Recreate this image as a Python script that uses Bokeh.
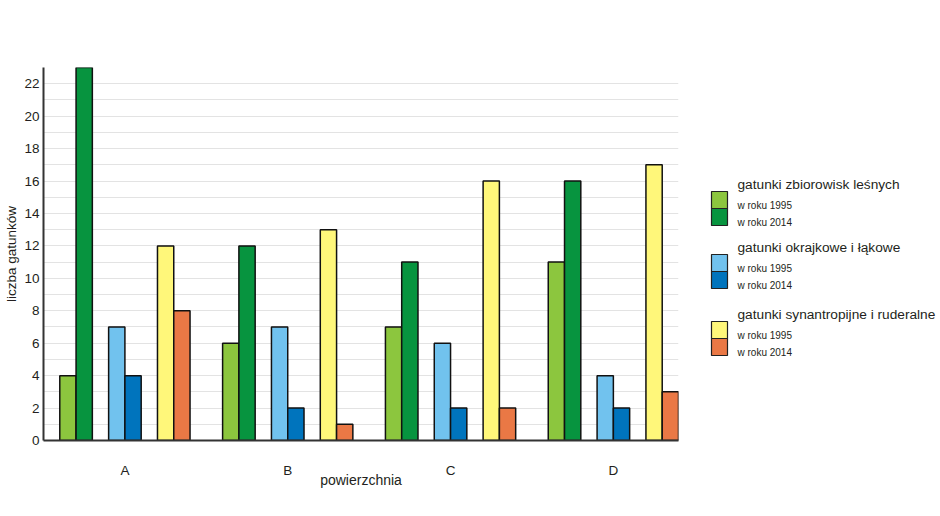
from bokeh.plotting import figure
from bokeh.layouts import row
from bokeh.models import Range1d, FixedTicker, SingleIntervalTicker, ColumnDataSource
from bokeh.core.properties import value
from bokeh.embed import file_html
from bokeh.resources import INLINE

# ---- data ----
categories = ["A", "B", "C", "D"]
zbior_1995 = [4, 6, 7, 11]
zbior_2014 = [23, 12, 11, 16]
okraj_1995 = [7, 7, 6, 4]
okraj_2014 = [4, 2, 2, 2]
synan_1995 = [12, 13, 16, 17]
synan_2014 = [8, 1, 2, 3]

group_titles = ["gatunki zbiorowisk leśnych", "gatunki okrajkowe i łąkowe",
                "gatunki synantropijne i ruderalne"]
year_labels = ["w roku 1995", "w roku 2014"]
y_label = "liczba gatunków"
x_label = "powierzchnia"

series = [zbior_1995, zbior_2014, okraj_1995, okraj_2014, synan_1995, synan_2014]
colors = ["#8cc63e", "#07943f", "#71c2ee", "#0074bd", "#fff77a", "#ea7845"]

FONT = "Liberation Sans"
TXT = "#231f20"
TOP, BOTTOM = 67, 60

p = figure(width=690, height=500, output_backend="svg", toolbar_location=None,
           x_range=Range1d(0, 39), y_range=Range1d(0, 23),
           min_border_left=43, min_border_right=12, min_border_top=TOP,
           min_border_bottom=BOTTOM)
p.outline_line_color = None
p.background_fill_color = "white"

for s, vals in enumerate(series):
    xs = [10 * g + 1.5 + s + (s // 2) for g in range(len(categories))]
    src = ColumnDataSource(dict(x=xs, top=vals))
    p.vbar(x="x", top="top", bottom=0, width=1, source=src,
           fill_color=colors[s], line_color="#111111", line_width=1.5)

# axes
p.yaxis.ticker = SingleIntervalTicker(interval=2)
p.ygrid.ticker = SingleIntervalTicker(interval=1)
p.ygrid.grid_line_color = "#e3e3e3"
p.ygrid.grid_line_width = 1
p.xgrid.grid_line_color = None

p.yaxis.axis_label = y_label
p.yaxis.axis_label_text_font = FONT
p.yaxis.axis_label_text_font_style = "normal"
p.yaxis.axis_label_text_font_size = "13.5px"
p.yaxis.axis_label_text_color = TXT
p.yaxis.axis_label_standoff = 2
p.yaxis.major_label_text_font = FONT
p.yaxis.major_label_text_font_size = "13.5px"
p.yaxis.major_label_text_color = TXT
p.yaxis.major_label_standoff = 4
p.yaxis.major_tick_in = 0
p.yaxis.major_tick_out = 0
p.yaxis.minor_tick_in = 0
p.yaxis.minor_tick_out = 0
p.yaxis.axis_line_color = "#333333"
p.yaxis.axis_line_width = 2

centers = [10 * g + 5 for g in range(len(categories))]
p.xaxis.ticker = FixedTicker(ticks=centers)
p.xaxis.major_label_overrides = {c: lab for c, lab in zip(centers, categories)}
p.xaxis.major_label_text_font = FONT
p.xaxis.major_label_text_font_size = "13.5px"
p.xaxis.major_label_text_color = TXT
p.xaxis.major_label_standoff = 22
p.xaxis.major_tick_in = 0
p.xaxis.major_tick_out = 0
p.xaxis.minor_tick_in = 0
p.xaxis.minor_tick_out = 0
p.xaxis.axis_line_color = "#333333"
p.xaxis.axis_line_width = 2
p.xaxis.axis_label = x_label
p.xaxis.axis_label_text_font = FONT
p.xaxis.axis_label_text_font_style = "normal"
p.xaxis.axis_label_text_font_size = "14px"
p.xaxis.axis_label_text_color = TXT
p.xaxis.axis_label_standoff = -9

# ---- legend figure (data coords = pixel coords of the page) ----
lg = figure(width=246, height=500, output_backend="svg", toolbar_location=None,
            x_range=Range1d(0, 246), y_range=Range1d(500 - BOTTOM, TOP),
            min_border_left=0, min_border_right=0, min_border_top=TOP,
            min_border_bottom=BOTTOM)
lg.axis.visible = False
lg.grid.visible = False
lg.outline_line_color = None

sw_tops = [191, 254, 321]
sw_h = 17
sw_left, sw_right, txt_x = 21, 37, 47
for i, title in enumerate(group_titles):
    t = sw_tops[i]
    lg.quad(left=[sw_left, sw_left], right=[sw_right, sw_right],
            top=[t, t + sw_h], bottom=[t + sw_h, t + 2 * sw_h],
            fill_color=[colors[2 * i], colors[2 * i + 1]], line_color="#222222", line_width=1.2)
    lg.text(x=[txt_x], y=[t - 7], text=[title], text_font=value(FONT), text_font_size="13.7px",
            text_color=TXT, text_baseline="middle", text_align="left")
    lg.text(x=[txt_x, txt_x], y=[t + 14, t + 31], text=year_labels, text_font=value(FONT),
            text_font_size="10px", text_color=TXT, text_baseline="middle", text_align="left")

layout = row(p, lg)
open("out.html", "w").write(file_html(layout, INLINE))
